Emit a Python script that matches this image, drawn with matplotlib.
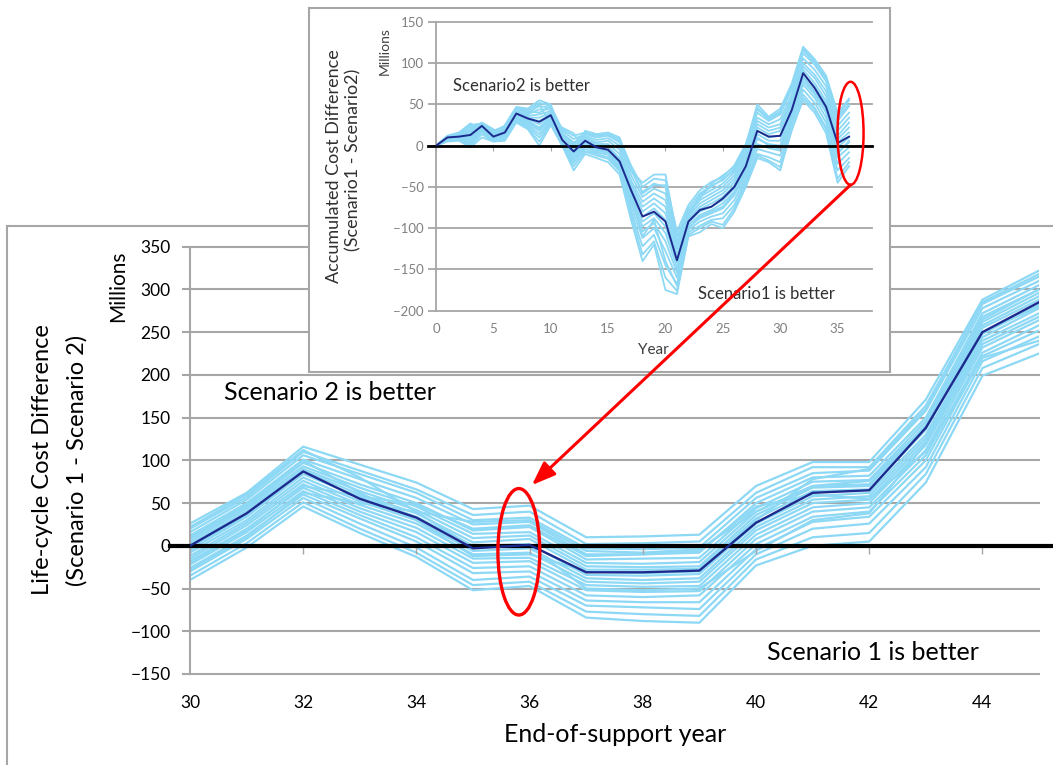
import matplotlib.pyplot as plt
from matplotlib.patches import Ellipse, Rectangle, ConnectionPatch

plt.rcParams['font.family'] = ['Lato', 'DejaVu Sans']

W, H = 1053, 765

light = '#8cd8f5'
navy = '#1c2a8e'
grid_gray = '#a6a6a6'

# Life-cycle cost difference vs end-of-support year (millions)
eos_years = list(range(30, 46))
eos_mean = [0, 38, 87, 55, 33, -3, 1, -31, -31, -29, 27, 62, 65, 138, 250, 285]
eos_runs = [
    [26, 62, 116, 95, 74, 43, 47, 10, 11, 13, 70, 98, 98, 171, 288, 322],
    [20, 57, 110, 88, 66, 36, 40, 2, 3, 5, 62, 92, 92, 164, 283, 315],
    [16, 54, 106, 84, 62, 30, 33, -3, -4, -2, 56, 85, 88, 158, 278, 310],
    [12, 50, 101, 78, 56, 25, 28, -10, -10, -8, 50, 80, 82, 150, 272, 305],
    [8, 46, 97, 72, 50, 18, 22, -16, -15, -14, 44, 75, 77, 146, 268, 300],
    [5, 44, 93, 68, 46, 14, 16, -20, -21, -19, 40, 70, 72, 142, 262, 296],
    [2, 41, 90, 64, 42, 9, 12, -24, -25, -24, 36, 68, 70, 140, 258, 292],
    [-2, 36, 88, 60, 38, 4, 8, -28, -28, -27, 32, 64, 66, 136, 255, 288],
    [-5, 34, 84, 57, 34, 0, 2, -34, -35, -33, 26, 58, 62, 130, 248, 282],
    [-8, 30, 80, 52, 30, -6, -3, -38, -40, -38, 22, 54, 58, 126, 244, 278],
    [-12, 27, 76, 48, 26, -10, -8, -42, -44, -42, 18, 50, 54, 122, 240, 272],
    [-15, 24, 72, 44, 21, -15, -14, -46, -48, -47, 13, 45, 50, 118, 236, 268],
    [-18, 20, 68, 40, 16, -20, -18, -52, -54, -53, 8, 40, 45, 112, 232, 264],
    [-22, 16, 64, 36, 10, -26, -24, -58, -60, -58, 2, 34, 40, 106, 226, 258],
    [-26, 12, 60, 32, 5, -32, -30, -64, -66, -66, -4, 28, 34, 100, 222, 252],
    [-30, 8, 56, 26, -2, -40, -36, -70, -72, -74, -10, 20, 26, 92, 216, 245],
    [-35, 3, 51, 20, -8, -46, -42, -77, -80, -82, -16, 10, 15, 84, 208, 236],
    [-40, -2, 46, 15, -13, -52, -47, -84, -88, -90, -23, 0, 5, 74, 199, 225],
    [10, 48, 100, 62, 30, -12, -10, -30, -32, -30, 30, 78, 90, 160, 285, 318],
    [-20, 18, 70, 58, 48, 20, 24, -12, -10, -6, 46, 60, 55, 110, 220, 240],
    [22, 60, 112, 80, 40, -2, 0, -50, -52, -50, -6, 30, 38, 120, 250, 280],
    [-28, 10, 62, 50, 40, 28, 30, -6, -8, -4, 40, 70, 76, 140, 265, 300],
]
eos_xticks = list(range(30, 45, 2))
eos_yticks = list(range(-150, 351, 50))

# Accumulated cost difference per year (millions)
acc_years = list(range(0, 37))
acc_mean = [0, 10, 11, 13, 24, 11, 16, 39, 33, 29, 37, 7, -7, 6, -2, -5, -19, -54, -86, -80,
            -92, -139, -92, -78, -74, -64, -50, -25, 18, 11, 12, 43, 88, 70, 47, 3, 11]
acc_runs = [
    [0, 12, 15, 25, 27, 18, 24, 46, 43, 52, 48, 20, 12, 16, 12, 14, 8, -24, -50, -40,
     -42, -104, -72, -54, -44, -38, -24, 2, 46, 33, 42, 72, 118, 102, 82, 36, 55],
    [0, 11, 14, 22, 27, 16, 22, 44, 40, 48, 46, 18, 8, 14, 10, 12, 4, -30, -56, -46,
     -50, -110, -76, -58, -48, -42, -28, -2, 40, 30, 38, 68, 112, 98, 78, 30, 48],
    [0, 11, 13, 19, 26, 14, 20, 42, 38, 44, 44, 15, 4, 12, 7, 9, 0, -36, -62, -52,
     -58, -116, -80, -62, -54, -46, -32, -6, 34, 26, 32, 62, 106, 92, 72, 24, 40],
    [0, 10, 12, 17, 25, 13, 19, 41, 36, 38, 42, 12, 0, 10, 4, 6, -5, -42, -68, -58,
     -66, -122, -82, -66, -58, -50, -36, -10, 30, 22, 26, 58, 100, 86, 66, 18, 34],
    [0, 10, 12, 15, 24, 12, 17, 40, 34, 34, 40, 10, -3, 8, 2, 2, -10, -46, -74, -64,
     -74, -126, -85, -70, -62, -54, -40, -14, 26, 18, 22, 54, 96, 82, 60, 12, 28],
    [0, 10, 11, 13, 24, 11, 16, 39, 33, 30, 38, 8, -6, 6, 0, -1, -15, -50, -80, -70,
     -82, -132, -88, -74, -66, -58, -44, -18, 22, 14, 18, 50, 92, 76, 54, 8, 22],
    [0, 9, 10, 11, 23, 10, 15, 38, 32, 26, 36, 6, -9, 5, -2, -4, -18, -55, -86, -76,
     -90, -136, -90, -77, -70, -62, -48, -22, 18, 10, 12, 46, 88, 72, 50, 4, 16],
    [0, 9, 10, 9, 22, 9, 14, 37, 30, 22, 35, 5, -12, 3, -4, -7, -22, -60, -92, -82,
     -98, -142, -93, -80, -74, -66, -52, -26, 14, 6, 6, 42, 84, 66, 44, -2, 10],
    [0, 8, 9, 6, 21, 8, 12, 36, 28, 18, 33, 3, -15, 1, -6, -9, -25, -64, -98, -88,
     -106, -148, -96, -84, -78, -70, -56, -30, 8, 2, 0, 38, 78, 62, 40, -8, 4],
    [0, 8, 8, 4, 19, 7, 11, 34, 26, 14, 31, 2, -18, -1, -8, -11, -27, -68, -104, -94,
     -116, -154, -99, -88, -82, -76, -60, -34, 2, -3, -6, 34, 74, 58, 34, -14, -2],
    [0, 7, 7, 2, 17, 6, 9, 32, 24, 10, 29, 1, -21, -4, -10, -14, -29, -74, -112, -100,
     -128, -160, -102, -92, -86, -82, -66, -38, -4, -8, -12, 30, 68, 52, 28, -22, -8],
    [0, 6, 7, 0, 14, 5, 8, 30, 22, 5, 27, 0, -25, -7, -12, -16, -31, -80, -122, -108,
     -145, -168, -105, -97, -90, -88, -72, -42, -10, -14, -20, 26, 62, 46, 22, -30, -15],
    [0, 5, 6, -2, 10, 5, 6, 28, 20, 0, 25, 0, -30, -10, -15, -20, -35, -90, -140, -120,
     -175, -180, -110, -105, -95, -100, -80, -50, -15, -20, -30, 20, 55, 40, 15, -45, -25],
    [0, 12, 16, 27, 20, 6, 25, 47, 45, 55, 50, 10, -10, 18, 14, 16, 10, -30, -45, -35,
     -35, -110, -85, -60, -50, -40, -30, 0, 50, 35, 45, 75, 120, 105, 85, 40, 57],
    [0, 6, 8, 20, 28, 20, 10, 32, 40, 50, 26, 22, 15, -8, -8, -5, -20, -84, -132, -116,
     -160, -176, -108, -100, -92, -96, -76, -46, -12, -18, -26, 18, 58, 44, 20, -40, -20],
    [0, 10, 14, 24, 26, 15, 22, 45, 42, 40, 48, 14, 2, 15, 12, 14, 6, -26, -58, -48,
     -48, -120, -80, -64, -46, -36, -26, 0, 44, 32, 40, 70, 116, 100, 80, 34, 50],
    [0, 8, 9, 8, 18, 8, 13, 35, 30, 20, 34, 4, -10, 4, -3, -5, -20, -58, -110, -90,
     -140, -170, -100, -86, -80, -74, -58, -30, 10, 0, -4, 40, 82, 64, 42, -10, 6],
]
acc_xticks = list(range(0, 36, 5))
acc_yticks = list(range(-200, 151, 50))


def at(x, y):
    # pixel position -> figure fraction
    return x / W, 1 - y / H


fig = plt.figure(figsize=(W / 100, H / 100), dpi=100)

# frame around the main chart
frame = Rectangle((7 / W, -0.1), 1.2, 1 - 226 / H + 0.1, transform=fig.transFigure,
                  fill=False, edgecolor=grid_gray, lw=1.5, zorder=0.5)
fig.add_artist(frame)

# ---- main chart ----
ax = fig.add_axes([190 / W, 1 - 674 / H, 849 / W, 427.3 / H], zorder=1)
ax.set_facecolor('none')
for run in eos_runs:
    ax.plot(eos_years, run, color=light, lw=1.6, zorder=2)
ax.axhline(0, xmin=-0.024, xmax=1.02, color='black', lw=3, clip_on=False, zorder=3)
ax.plot(eos_years, eos_mean, color=navy, lw=1.7, zorder=4)
ax.vlines(eos_xticks, -9, 0, color=grid_gray, lw=1, zorder=2)

ax.set_xlim(30, 45)
ax.set_ylim(-150, 350)
ax.set_xticks(eos_xticks)
ax.set_yticks(eos_yticks)
ax.yaxis.grid(True, color=grid_gray, lw=1.5)
for gl in ax.get_ygridlines():
    gl.set_clip_on(False)
ax.set_axisbelow(True)
for side in ['top', 'right', 'bottom']:
    ax.spines[side].set_visible(False)
ax.spines['left'].set_color(grid_gray)
ax.spines['left'].set_linewidth(1.5)
ax.tick_params(axis='y', direction='out', length=6, width=1.5, color=grid_gray,
               pad=8, labelsize=12.5)
ax.tick_params(axis='x', length=0, pad=15, labelsize=12.5)

ax.add_patch(Ellipse((35.81, -7), 0.74, 148, fill=False, ec='red', lw=2.4,
                     zorder=6, clip_on=False))

fig.text(*at(330, 393), 'Scenario 2 is better', fontsize=18, ha='center', va='center', zorder=6)
fig.text(*at(873, 653), 'Scenario 1 is better', fontsize=18, ha='center', va='center', zorder=6)
fig.text(*at(615, 734), 'End-of-support year', fontsize=18, ha='center', va='center')
fig.text(*at(118, 286), 'Millions', fontsize=15, rotation=90, ha='center', va='center')
fig.text(*at(43, 460), 'Life-cycle Cost Difference', fontsize=17, rotation=90,
         ha='center', va='center')
fig.text(*at(77, 460), '(Scenario 1 - Scenario 2)', fontsize=17, rotation=90,
         ha='center', va='center')

# ---- inset: accumulated cost difference ----
box = fig.add_axes([309 / W, 1 - 372 / H, 581 / W, 364 / H], zorder=2)
box.set_xticks([])
box.set_yticks([])
for sp in box.spines.values():
    sp.set_color(grid_gray)
    sp.set_linewidth(1.5)

ins = fig.add_axes([436 / W, 1 - 310.6 / H, 436 / W, 288.6 / H], zorder=3)
ins.set_facecolor('none')
for run in acc_runs:
    ins.plot(acc_years, run, color=light, lw=1.3, zorder=2)
ins.axhline(0, xmin=-0.018, xmax=1.0, color='black', lw=2, clip_on=False, zorder=3)
ins.plot(acc_years, acc_mean, color=navy, lw=1.4, zorder=4)
ins.vlines(acc_xticks, -6, 0, color=grid_gray, lw=0.8, zorder=2)

ins.set_xlim(0, 38)
ins.set_ylim(-200, 150)
ins.set_xticks(acc_xticks)
ins.set_yticks(acc_yticks)
ins.yaxis.grid(True, color=grid_gray, lw=1.3)
for gl in ins.get_ygridlines():
    gl.set_clip_on(False)
ins.set_axisbelow(True)
for side in ['top', 'right', 'bottom']:
    ins.spines[side].set_visible(False)
ins.spines['left'].set_color(grid_gray)
ins.spines['left'].set_linewidth(1.3)
ins.tick_params(axis='y', direction='out', length=6, width=1.3, color=grid_gray,
                pad=3, labelsize=9.5, labelcolor='#808080')
ins.tick_params(axis='x', length=0, pad=9, labelsize=9.5, labelcolor='#808080')

ins.add_patch(Ellipse((36.13, 15), 2.27, 125, fill=False, ec='red', lw=1.8,
                      zorder=6, clip_on=False))

fig.text(*at(521, 86), 'Scenario2 is better', fontsize=12, ha='center', va='center',
         color='#303030', zorder=6)
fig.text(*at(766, 294), 'Scenario1 is better', fontsize=12, ha='center', va='center',
         color='#303030', zorder=6)
fig.text(*at(653, 350), 'Year', fontsize=11, ha='center', va='center',
         color='#404040', zorder=6)
fig.text(*at(385, 51), 'Millions', fontsize=10, rotation=90, ha='center', va='center',
         color='#404040', zorder=6)
fig.text(*at(334, 166), 'Accumulated Cost Difference', fontsize=13, rotation=90,
         ha='center', va='center', color='#303030', zorder=6)
fig.text(*at(353, 160), '(Scenario1 - Scenario2)', fontsize=13, rotation=90,
         ha='center', va='center', color='#303030', zorder=6)

# arrow linking the year-36 values in both charts
con = ConnectionPatch(xyA=(36.13, -47.5), coordsA=ins.transData,
                      xyB=(36.04, 71), coordsB=ax.transData,
                      arrowstyle='-|>,head_length=0.8,head_width=0.3',
                      mutation_scale=18, color='red', lw=2.2, zorder=10)
fig.add_artist(con)

fig.savefig('out.png', dpi=100)
